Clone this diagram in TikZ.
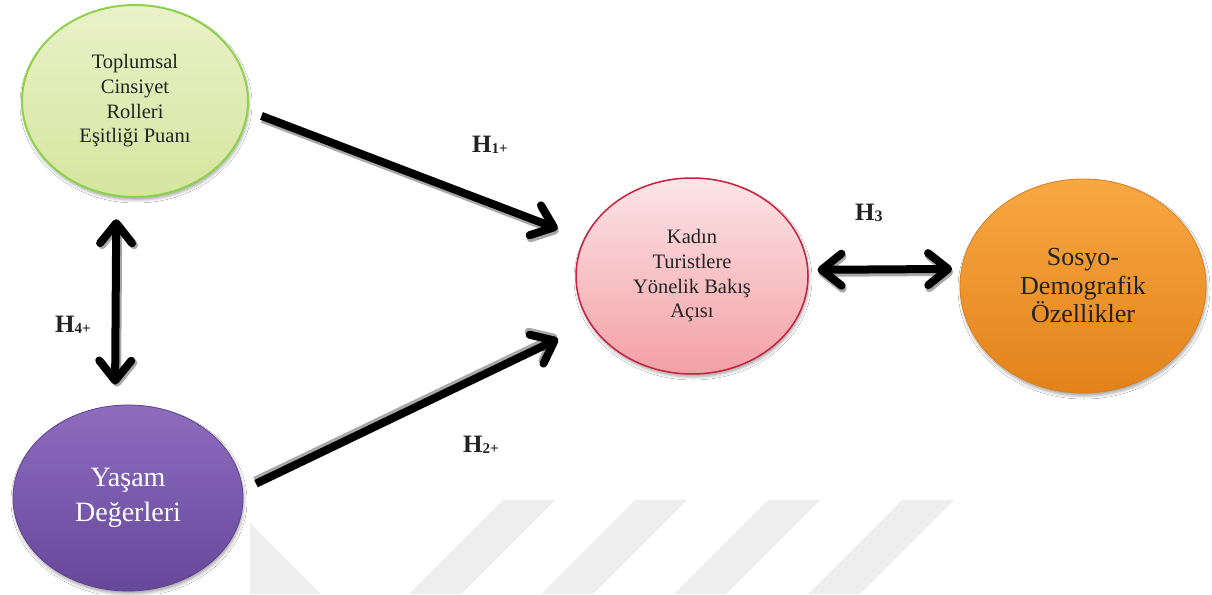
\documentclass[tikz,border=0pt]{standalone}
\usepackage{fontspec}
\setmainfont{Liberation Serif}
\usetikzlibrary{shapes.geometric,arrows.meta,shadows.blur}

\definecolor{greenT}{HTML}{EAF1C9}
\definecolor{greenB}{HTML}{D6E59E}
\definecolor{greenedge}{HTML}{8CD24A}
\definecolor{pinkT}{HTML}{FCE4E6}
\definecolor{pinkB}{HTML}{F3A0A6}
\definecolor{pinkedge}{HTML}{C8213F}
\definecolor{purpT}{HTML}{8E6DBF}
\definecolor{purpB}{HTML}{66479A}
\definecolor{purpedge}{HTML}{5E4290}
\definecolor{orT}{HTML}{F8A843}
\definecolor{orB}{HTML}{E3821A}
\definecolor{oredge}{HTML}{D9801E}
\definecolor{txt}{HTML}{222222}
\definecolor{wm}{HTML}{EEEEEE}
\definecolor{arrshadow}{HTML}{A8A8A8}

\begin{document}
\begin{tikzpicture}[x=1pt,y=1pt,
  ell/.style={ellipse, inner sep=0pt, align=center, text=txt,
    blur shadow={shadow xshift=1pt, shadow yshift=-3pt, shadow blur radius=3pt, shadow opacity=35}},
  barb/.tip={Straight Barb[length=20pt,width=32pt,round]},
  arr/.style={line width=8pt, -barb},
  darr/.style={line width=8pt, barb-barb},
  shadowline/.style={draw=arrshadow, transform canvas={shift={#1}}},
  hlab/.style={anchor=base west, inner sep=0pt, font=\fontsize{25}{25}\selectfont\bfseries, text=txt},
  wmark/.style={fill=wm, draw=none}
]
\useasboundingbox (0,0) rectangle (1212,-594);
\fill[white] (0,0) rectangle (1212,-594);

% watermark stripes
\fill[wmark] (250,-523) -- (321,-594) -- (250,-594) -- cycle;
\fill[wmark] (503,-500) -- (555,-500) -- (461,-594) -- (409,-594) -- cycle;
\fill[wmark] (635,-500) -- (687,-500) -- (593,-594) -- (541,-594) -- cycle;
\fill[wmark] (768,-500) -- (820,-500) -- (726,-594) -- (674,-594) -- cycle;
\fill[wmark] (902,-500) -- (954,-500) -- (860,-594) -- (808,-594) -- cycle;

% nodes
\node[ell, draw=greenedge, line width=2pt, top color=greenT, bottom color=greenB,
      minimum width=226pt, minimum height=192pt,
      font=\fontsize{20.5}{24.7}\selectfont] (g) at (135,-101)
      {Toplumsal\\Cinsiyet\\Rolleri\\Eşitliği Puanı};
\node[ell, draw=pinkedge, line width=1.5pt, top color=pinkT, bottom color=pinkB,
      minimum width=232pt, minimum height=196pt,
      font=\fontsize{20.5}{24.7}\selectfont] (p) at (692,-276)
      {Kadın\\Turistlere\\Yönelik Bakış\\Açısı};
\node[ell, draw=oredge, line width=0.8pt, top color=orT, bottom color=orB,
      minimum width=246pt, minimum height=214pt,
      font=\fontsize{26}{28.5}\selectfont] (o) at (1083,-286)
      {Sosyo-\\Demografik\\Özellikler};
\node[ell, draw=purpedge, line width=0.8pt, top color=purpT, bottom color=purpB,
      minimum width=230pt, minimum height=186pt, text=white,
      font=\fontsize{28}{35}\selectfont] (y) at (128,-498)
      {Yaşam\\Değerleri};

% connector shadows
\draw[arr, shadowline={(1pt,-3pt)}, shorten <=14pt, shorten >=28pt] (g.-5.4) -- (p.161);
\draw[arr, shadowline={(-1pt,3pt)}, shorten <=14.5pt, shorten >=35pt] (y.4) -- (p.-155.2);
\draw[darr, shadowline={(1pt,-3pt)}, shorten <=9pt, shorten >=9pt] (p.3) -- (o.172.5);
\draw[darr, shadowline={(2pt,-2pt)}, shorten <=22.5pt, shorten >=20.6pt] (g.-101.9) -- (y.98.1);

% connectors
\draw[arr, shorten <=14pt, shorten >=28pt] (g.-5.4) -- (p.161);
\draw[arr, shorten <=14.5pt, shorten >=35pt] (y.4) -- (p.-155.2);
\draw[darr, shorten <=9pt, shorten >=9pt] (p.3) -- (o.172.5);
\draw[darr, shorten <=22.5pt, shorten >=20.6pt] (g.-101.9) -- (y.98.1);

% labels
\node[hlab] (h1) at (472,-152) {H{\fontsize{15}{15}\selectfont\raisebox{-1.5pt}{1+}}};
\node[hlab] (h2) at (463,-452) {H{\fontsize{15}{15}\selectfont\raisebox{-1.5pt}{2+}}};
\node[hlab] (h3) at (855,-220) {H{\fontsize{16}{16}\selectfont\raisebox{-1pt}{3}}};
\node[hlab] (h4) at (55,-332) {H{\fontsize{15}{15}\selectfont\raisebox{-1.5pt}{4+}}};
\end{tikzpicture}
\end{document}
